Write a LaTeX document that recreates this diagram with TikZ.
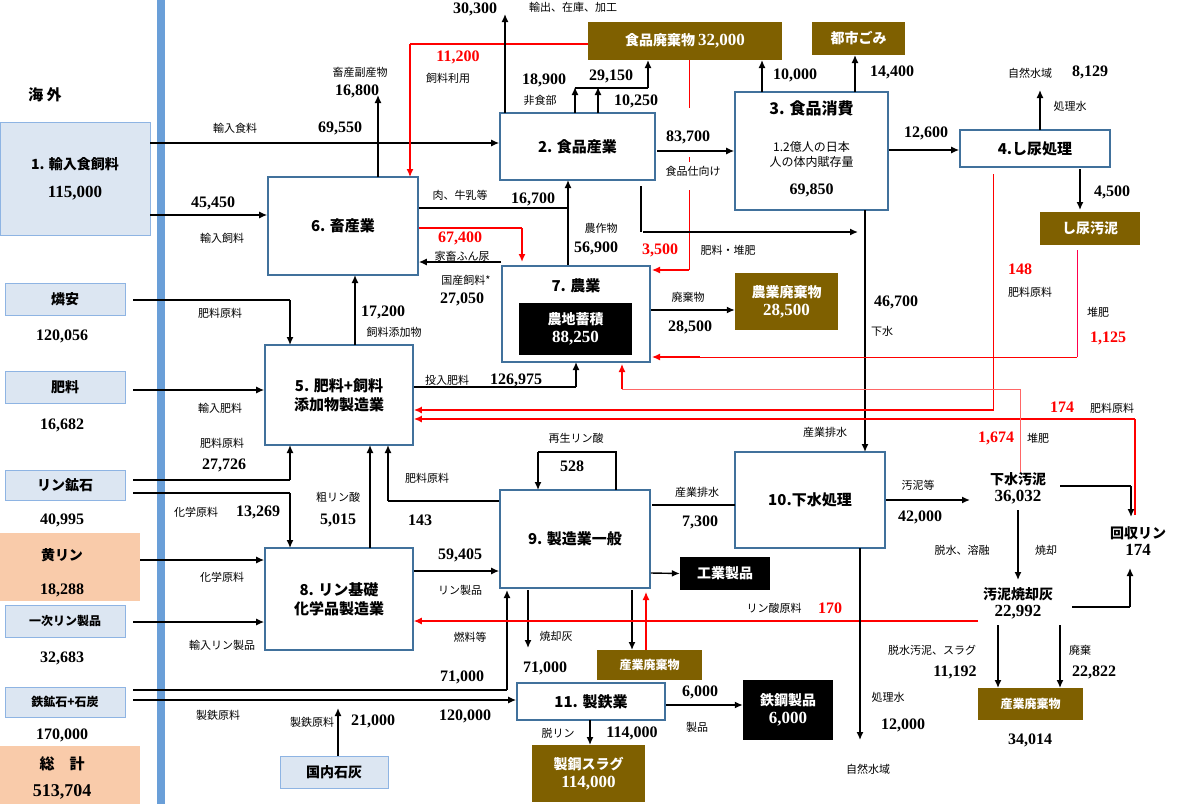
\documentclass[tikz,border=0pt]{standalone}
\usepackage{fontspec}
\setmainfont{Noto Sans CJK JP}
\newfontfamily\nf{Liberation Serif}
\usetikzlibrary{arrows.meta}
\definecolor{boxc}{HTML}{41719C}
\definecolor{brn}{HTML}{7F6000}
\definecolor{lb}{HTML}{DCE6F2}
\definecolor{lbd}{HTML}{8EB4E3}
\definecolor{peach}{HTML}{F9CBAA}
\definecolor{bar}{HTML}{6A9FD8}
\newcommand{\bn}[1]{{\fontsize{17}{19}\selectfont\nf\bfseries #1}}
\tikzset{
 box/.style={draw=boxc,line width=1.6pt,fill=white,align=center,font=\fontsize{15}{19}\selectfont\bfseries,inner sep=1pt},
 brown/.style={fill=brn,text=white,align=center,font=\fontsize{14}{18}\selectfont\bfseries,inner sep=1pt},
 blk/.style={fill=black,text=white,align=center,font=\fontsize{14}{18}\selectfont\bfseries,inner sep=1pt},
 lbox/.style={draw=lbd,line width=1pt,fill=lb,align=center,font=\fontsize{14}{18}\selectfont\bfseries,inner sep=1pt},
 lab/.style={font=\fontsize{11}{13}\selectfont,inner sep=1pt,align=center},
 num/.style={font=\fontsize{16}{18}\selectfont\nf\bfseries,inner sep=1pt},
 rnum/.style={num,text=red},
 ar/.style={-{Latex[length=8pt,width=7pt]},line width=1.4pt},
 ln/.style={line width=1.2pt},
 rar/.style={ar,red,line width=1.6pt},
}
\begin{document}
\begin{tikzpicture}[x=1pt,y=-1pt]
\useasboundingbox (0,0) rectangle (1184,804);
\fill[white] (0,0) rectangle (1184,804);
\fill[bar] (157,0) rectangle (165,804);
% left column
\node[font=\fontsize{15}{18}\selectfont\bfseries] (kaigai) at (45,95) {海\ 外};
\node[lbox,minimum width=150,minimum height=113] (n1) at (75,178.5) {1. 輸入食飼料\\[10pt]\bn{115,000}};
\node[lbox,minimum width=120,minimum height=32] (rinan) at (65,299) {燐安};
\node[num] (v1) at (62,336) {120,056};
\node[lbox,minimum width=120,minimum height=32] (hiryo) at (65,387) {肥料};
\node[num] (v2) at (62,425) {16,682};
\fill[peach] (0,533) rectangle (140,601);
\node[lbox,minimum width=120,minimum height=30] (rinko) at (65,485) {リン鉱石};
\node[num] (v3) at (62,520) {40,995};
\node[font=\fontsize{14}{18}\selectfont\bfseries] (kirin) at (62,555) {黄リン};
\node[num] (v4) at (62,590) {18,288};
\node[lbox,minimum width=120,minimum height=32,font=\fontsize{12}{16}\selectfont\bfseries] (ichiji) at (65,621) {一次リン製品};
\node[num] (v5) at (62,658) {32,683};
\node[lbox,minimum width=120,minimum height=30,font=\fontsize{12}{16}\selectfont\bfseries] (tekko) at (65,702) {鉄鉱石+石炭};
\node[num] (v6) at (62,735) {170,000};
\fill[peach] (0,746) rectangle (140,804);
\node[font=\fontsize{15}{18}\selectfont\bfseries] (sokei) at (62,764) {総\quad 計};
\node[num,font=\fontsize{18}{20}\selectfont\nf\bfseries] (v7) at (62,792) {513,704};
% main boxes
\node[box,minimum width=155,minimum height=67] (n2) at (577.5,146.5) {2. 食品産業};
\node[box,minimum width=153,minimum height=118] (n3) at (811.5,151) {};
\node[font=\fontsize{16}{19}\selectfont\bfseries] (n3t) at (811.5,108) {3. 食品消費};
\node[lab,font=\fontsize{12}{15}\selectfont] (n3s) at (811.5,154) {1.2億人の日本\\人の体内賦存量};
\node[num] (n3v) at (811.5,190) {69,850};
\node[box,minimum width=150,minimum height=37] (n4) at (1035,148.5) {4.し尿処理};
\node[box,minimum width=150,minimum height=98] (n6) at (343,226) {6. 畜産業};
\node[box,minimum width=148,minimum height=96] (n7) at (576,314) {};
\node[font=\fontsize{15}{18}\selectfont\bfseries] (n7t) at (576,286) {7. 農業};
\node[blk,minimum width=113,minimum height=52] (nochi) at (575.5,329) {農地蓄積\\\bn{88,250}};
\node[box,minimum width=148,minimum height=100] (n5) at (339,395) {5. 肥料+飼料\\添加物製造業};
\node[box,minimum width=150,minimum height=96] (n10) at (810,500) {10.下水処理};
\node[box,minimum width=150,minimum height=98] (n9) at (575,539) {9. 製造業一般};
\node[box,minimum width=148,minimum height=102] (n8) at (339,599) {8. リン基礎\\化学品製造業};
\node[box,minimum width=148,minimum height=37] (n11) at (591,701.5) {11. 製鉄業};
% brown / black boxes
\node[brown,minimum width=194,minimum height=38] (fw) at (685,41) {食品廃棄物 \bn{32,000}};
\node[brown,minimum width=93,minimum height=33] (gomi) at (858.5,38.5) {都市ごみ};
\node[brown,minimum width=100,minimum height=33] (shinyo) at (1090,228.5) {し尿汚泥};
\node[brown,minimum width=103,minimum height=57] (nw) at (786.5,301.5) {農業廃棄物\\\bn{28,500}};
\node[brown,minimum width=105,minimum height=30,font=\fontsize{12}{15}\selectfont\bfseries] (iw1) at (649.5,665) {産業廃棄物};
\node[brown,minimum width=105,minimum height=32,font=\fontsize{12}{15}\selectfont\bfseries] (iw2) at (1030.5,704) {産業廃棄物};
\node[num] (iw2v) at (1030,740) {34,014};
\node[brown,minimum width=113,minimum height=57] (slag) at (588.5,773.5) {製鋼スラグ\\\bn{114,000}};
\node[blk,minimum width=90,minimum height=33] (kogyo) at (725,573.5) {工業製品};
\node[blk,minimum width=90,minimum height=60] (tekp) at (788,710) {鉄鋼製品\\\bn{6,000}};
\node[lbox,minimum width=108,minimum height=32] (sekkai) at (334,772) {国内石灰};
% right texts
\node[font=\fontsize{14}{17}\selectfont\bfseries,align=center] (gesui) at (1018,488) {下水汚泥\\\bn{36,032}};
\node[font=\fontsize{14}{17}\selectfont\bfseries,align=center] (shokyaku) at (1018,603) {汚泥焼却灰\\\bn{22,992}};
\node[font=\fontsize{14}{17}\selectfont\bfseries,align=center] (kaishu) at (1138,541) {回収リン\\\bn{174}};
% ---------- connectors ----------
\draw[ar] (150,143) -- (n2.west |- 0,143);
\node[lab] (t1) at (235,128) {輸入食料}; \node[num] (t2) at (340,128) {69,550};
\draw[ar] (150,215) -- (n6.west |- 0,215);
\node[num] (t3) at (213,203) {45,450}; \node[lab] (t4) at (222,238) {輸入飼料};
\draw[ar] (378,177) -- (378,95);
\node[lab] (t5) at (360,72) {畜産副産物}; \node[num] (t6) at (357,91) {16,800};
\draw[red,line width=1.2pt] (fw.west |- 0,44) -- (410,44);
\draw[rar,line width=1.2pt] (410,44) -- (410,177);
\node[rnum] (t7) at (458,57) {11,200}; \node[lab] (t8) at (448,78) {飼料利用};
\draw[ar] (505,113) -- (505,14);
\node[num] (t9) at (475,9) {30,300}; \node[lab] (t10) at (573,7) {輸出、在庫、加工};
\draw[ar] (575,113) -- (575,87);
\draw[ar] (598,113) -- (598,87);
\draw[ln] (575,88) -- (648,88);
\draw[ar] (648,88) -- (648,60);
\node[num] (t11) at (544,80) {18,900}; \node[lab] (t12) at (540,100) {非食部};
\node[num] (t13) at (611,76) {29,150}; \node[num] (t14) at (636,101) {10,250};
\draw[ar] (762,92) -- (762,60);
\node[num] (t15) at (795,75) {10,000};
\draw[ar] (855,92) -- (855,55);
\node[num] (t16) at (892,72) {14,400};
\draw[ar] (657,151) -- (n3.west |- 0,151);
\node[num] (t17) at (688,137) {83,700}; \node[lab] (t18) at (693,171) {食品仕向け};
\draw[red,line width=1pt] (689,60) -- (689,108) (689,157) -- (689,162) (689,190) -- (689,270);
\draw[rar,line width=1.2pt] (689,270) -- (652,270);
\node[rnum] (t19) at (660,250) {3,500}; \node[lab] (t20) at (728,250) {肥料・堆肥};
\draw[ln] (641,186) -- (641,232);
\draw[ar] (643,232) -- (858,232);
\draw[ln] (n6.east |- 0,208) -- (568,208);
\draw[ar] (n7.north -| 568,0) -- (568,180);
\node[lab] (t21) at (460,195) {肉、牛乳等}; \node[num] (t22) at (533,199) {16,700};
\node[lab] (t23) at (601,228) {農作物}; \node[num] (t24) at (596,248) {56,900};
\draw[red,line width=1.5pt] (n6.east |- 0,228) -- (522,228);
\draw[rar] (522,228) -- (522,262);
\node[rnum] (t25) at (460,238) {67,400}; \node[lab] (t26) at (462,256) {家畜ふん尿};
\draw[ar] (n7.west |- 0,262) -- (n6.east |- 0,262);
\node[lab] (t27) at (466,280) {国産飼料*}; \node[num] (t28) at (462,299) {27,050};
\draw[ar] (n7.east |- 0,310) -- (nw.west |- 0,310);
\node[lab] (t92) at (688,297) {廃棄物}; \node[num] (t93) at (690,327) {28,500};
\draw[ar] (355,345) -- (355,275);
\node[num] (t29) at (383,312) {17,200}; \node[lab] (t30) at (394,332) {飼料添加物};
\draw[ln] (133,300) -- (290,300);
\draw[ar] (290,300) -- (290,345);
\node[lab] (t31) at (220,313) {肥料原料};
\draw[ar] (133,390) -- (n5.west |- 0,390);
\node[lab] (t32) at (220,408) {輸入肥料};
\draw[ln] (133,480) -- (290,480);
\draw[ar] (290,480) -- (290,445);
\node[lab] (t33) at (222,443) {肥料原料}; \node[num] (t34) at (224,465) {27,726};
\draw[ln] (133,493) -- (290,493);
\draw[ar] (290,493) -- (290,548);
\node[lab] (t35) at (196,512) {化学原料}; \node[num] (t36) at (258,512) {13,269};
\draw[ar] (140,560) -- (n8.west |- 0,560);
\node[lab] (t37) at (222,577) {化学原料};
\draw[ar] (133,622) -- (n8.west |- 0,622);
\node[lab] (t38) at (222,645) {輸入リン製品};
\draw[ln] (133,690) -- (507,690);
\draw[ar] (507,690) -- (507,590);
\node[num] (t39) at (462,677) {71,000}; \node[lab] (t40) at (470,637) {燃料等};
\draw[ar] (133,700) -- (n11.west |- 0,700);
\node[num] (t41) at (465,716) {120,000}; \node[lab] (t42) at (218,715) {製鉄原料};
\draw[ar] (sekkai.north -| 338,0) -- (338,708);
\node[lab] (t43) at (312,722) {製鉄原料}; \node[num] (t44) at (373,721) {21,000};
\draw[ln] (n5.east |- 0,387) -- (576,387);
\draw[ar] (576,387) -- (576,362);
\node[lab] (t45) at (447,380) {投入肥料}; \node[num] (t46) at (516,380) {126,975};
\draw[ar] (370,548) -- (370,445);
\node[lab] (t47) at (338,497) {粗リン酸}; \node[num] (t48) at (338,520) {5,015};
\draw[ln] (n9.west |- 0,501) -- (388,501);
\draw[ar] (388,501) -- (388,445);
\node[lab] (t49) at (427,478) {肥料原料}; \node[num] (t50) at (420,520) {143};
\draw[ar] (n8.east |- 0,571) -- (n9.west |- 0,571);
\node[num] (t51) at (460,555) {59,405}; \node[lab] (t52) at (460,590) {リン製品};
\draw[ln] (616,490) -- (616,452) -- (538,452);
\draw[ar] (538,452) -- (538,490);
\node[lab] (t53) at (576,438) {再生リン酸}; \node[num] (t54) at (572,466) {528};
\draw[ar] (n9.east |- 0,573) -- (kogyo.west);
\draw[ln] (652,505) -- (735,505);
\node[lab] (t55) at (697,492) {産業排水}; \node[num] (t56) at (700,522) {7,300};
\draw[ar] (528,590) -- (528,648);
\node[lab] (t57) at (556,636) {焼却灰}; \node[num] (t58) at (545,668) {71,000};
\draw[ar] (632,590) -- (632,650);
\draw[rar,line width=1.2pt] (646,650) -- (646,592);
\draw[ar] (n11.east |- 0,705) -- (tekp.west |- 0,705);
\node[num] (t59) at (700,692) {6,000}; \node[lab] (t60) at (697,727) {製品};
\draw[ar] (590,720) -- (590,745);
\node[lab] (t61) at (558,733) {脱リン}; \node[num] (t62) at (632,733) {114,000};
\draw[ar] (n3.east |- 0,150) -- (n4.west |- 0,150);
\node[num] (t63) at (926,133) {12,600};
\draw[ar] (1040,130) -- (1040,90);
\node[lab] (t64) at (1070,106) {処理水};
\node[lab] (t65) at (1030,73) {自然水域}; \node[num] (t66) at (1090,72) {8,129};
\draw[ar] (1080,169) -- (1080,210);
\node[num] (t67) at (1112,192) {4,500};
\draw[ar] (865,210) -- (865,452);
\node[num] (t68) at (896,302) {46,700}; \node[lab] (t69) at (882,331) {下水};
\node[lab] (t70) at (825,432) {産業排水};
% red return lines
\draw[red,line width=1pt] (993,174) -- (993,410) -- (420,410);
\draw[rar] (993,410) -- (n5.east |- 0,410);
\node[rnum] (t71) at (1020,269) {148}; \node[lab] (t72) at (1030,292) {肥料原料};
\draw[red!70!magenta,line width=1pt] (1077,250) -- (1077,357);
\draw[red,line width=1pt] (1077,357) -- (660,357);
\draw[rar,line width=1.2pt] (700,357) -- (652,357);
\node[lab] (t73) at (1098,312) {堆肥}; \node[rnum] (t74) at (1108,338) {1,125};
\draw[red,line width=1.8pt] (1135,515) -- (1135,419);
\draw[rar] (1135,419) -- (n5.east |- 0,419);
\node[rnum] (t75) at (1062,407) {174}; \node[lab] (t76) at (1112,408) {肥料原料};
\draw[red!60,line width=1pt] (1020,472) -- (1020,389) -- (622,389);
\draw[rar,line width=1.2pt] (622,389) -- (622,364);
\node[rnum] (t77) at (996,438) {1,674}; \node[lab] (t78) at (1038,438) {堆肥};
\draw[ar] (n10.east |- 0,500) -- (970,500);
\node[lab] (t79) at (918,485) {汚泥等}; \node[num] (t80) at (920,517) {42,000};
\draw[ln] (1060,486) -- (1131,486);
\draw[ar] (1131,486) -- (1131,517);
\draw[ar] (1018,510) -- (1018,580);
\node[lab] (t81) at (1046,550) {焼却}; \node[lab] (t82) at (962,550) {脱水、溶融};
\draw[ln] (1072,607) -- (1130,607);
\draw[ar] (1130,607) -- (1130,568);
\draw[rar,line width=1.2pt] (978,621) -- (n8.east |- 0,621);
\node[lab] (t83) at (774,608) {リン酸原料}; \node[rnum] (t84) at (830,608) {170};
\draw[ar] (998,625) -- (998,688);
\node[lab] (t85) at (932,650) {脱水汚泥、スラグ}; \node[num] (t86) at (955,672) {11,192};
\draw[ar] (1060,625) -- (1060,688);
\node[lab] (t87) at (1080,650) {廃棄}; \node[num] (t88) at (1094,672) {22,822};
\draw[ar] (860,548) -- (860,740);
\node[lab] (t89) at (888,697) {処理水}; \node[num] (t90) at (903,725) {12,000};
\node[lab] (t91) at (868,769) {自然水域};
\end{tikzpicture}
\end{document}
